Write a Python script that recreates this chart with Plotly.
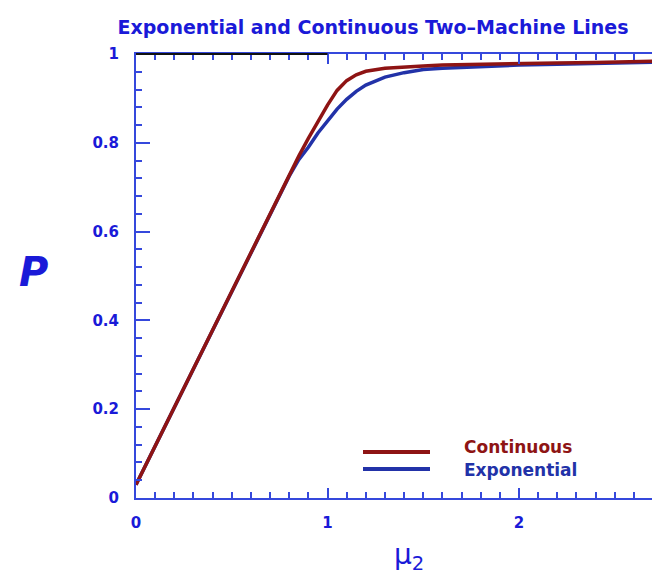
import plotly.graph_objects as go

# ---- data ----
mu2 = [0.0, 0.1, 0.2, 0.3, 0.4, 0.5, 0.6, 0.7, 0.8, 0.85, 0.9, 0.95, 1.0, 1.05,
       1.1, 1.15, 1.2, 1.3, 1.4, 1.5, 1.6, 1.8, 2.0, 2.2, 2.4, 2.6, 2.74]
p_continuous = [0.03, 0.117, 0.205, 0.292, 0.38, 0.467, 0.554, 0.642, 0.728, 0.770,
                0.810, 0.848, 0.885, 0.918, 0.940, 0.953, 0.961, 0.968, 0.971, 0.973,
                0.975, 0.977, 0.978, 0.980, 0.981, 0.983, 0.984]
p_exponential = [0.03, 0.117, 0.205, 0.292, 0.38, 0.467, 0.554, 0.642, 0.725, 0.762,
                 0.790, 0.822, 0.850, 0.876, 0.898, 0.916, 0.930, 0.948, 0.958, 0.965,
                 0.968, 0.972, 0.975, 0.977, 0.979, 0.981, 0.982]

x_tickvals = [0, 1, 2]
x_ticktext = ["0", "1", "2"]
y_tickvals = [0, 0.2, 0.4, 0.6, 0.8, 1.0]
y_ticktext = ["0", "0.2", "0.4", "0.6", "0.8", "1"]
series_names = ["Continuous", "Exponential"]

RED = "#8e1414"
BLUE = "#2232a8"
AXIS = "#3548dc"
TXT = "#1a1ad8"
FONT = "DejaVu Sans"

OFF = 8  # page body margin
W, H = 660 - OFF, 582 - OFF
L, T = 136 - OFF, 54 - OFF
PB = 498 - OFF            # plot bottom in figure px
R, B = 0, H - PB
pw, ph = W - L - R, PB - T


def px(x):
    return (x - OFF - L) / pw


def py(y):
    return (PB - (y - OFF)) / ph


fig = go.Figure()
fig.add_trace(go.Scatter(x=mu2, y=p_exponential, mode="lines", name=series_names[1],
                         line=dict(color=BLUE, width=3.5), showlegend=False))
fig.add_trace(go.Scatter(x=mu2, y=p_continuous, mode="lines", name=series_names[0],
                         line=dict(color=RED, width=3.5), showlegend=False))

xr = [0, pw / 191.5]

fig.update_layout(
    width=W, height=H,
    margin=dict(l=L, r=R, t=T, b=B),
    paper_bgcolor="white", plot_bgcolor="white",
    font=dict(family=FONT, color=TXT),
    title=dict(text="<b>Exponential and Continuous Two–Machine Lines</b>",
               font=dict(family=FONT, size=19, color=TXT),
               x=(373 - OFF) / W, xanchor="center", xref="container",
               y=1 - (27 - OFF) / H, yanchor="middle", yref="container"),
    xaxis=dict(range=xr, showgrid=False, zeroline=False,
               showline=True, linecolor=AXIS, linewidth=2, mirror="ticks",
               ticks="inside", ticklen=10, tickwidth=2, tickcolor=AXIS,
               tickvals=x_tickvals, ticktext=x_ticktext,
               tickfont=dict(family=FONT, size=15, color=TXT, weight="bold"),
               ticklabelstandoff=10,
               minor=dict(dtick=0.1, ticks="inside", ticklen=6, tickwidth=1.5,
                          tickcolor=AXIS, showgrid=False)),
    yaxis=dict(range=[0, 1], showgrid=False, zeroline=False,
               showline=True, linecolor=AXIS, linewidth=2, mirror=False,
               ticks="inside", ticklen=14, tickwidth=2, tickcolor=AXIS,
               tickvals=y_tickvals, ticktext=y_ticktext,
               tickfont=dict(family=FONT, size=15, color=TXT, weight="bold"),
               ticklabelstandoff=12,
               minor=dict(dtick=0.04, ticks="inside", ticklen=6, tickwidth=1.5,
                          tickcolor=AXIS, showgrid=False)),
    yaxis2=dict(range=[0, 1], overlaying="y", side="right", showgrid=False,
                zeroline=False, showline=False, ticks="inside", ticklen=8,
                tickwidth=2, tickcolor="#222244", tickvals=y_tickvals[1:-1],
                showticklabels=False),
)

# black part of the top frame (0..1), as in the reference
fig.add_shape(type="line", xref="x", yref="paper", x0=0, x1=1, y0=1, y1=1,
              line=dict(color="#111111", width=2))

# axis titles
fig.add_annotation(text="<b><i>P</i></b>", xref="paper", yref="paper",
                   x=px(33), y=py(272), showarrow=False,
                   font=dict(family=FONT, size=40, color=TXT),
                   xanchor="center", yanchor="middle")
fig.add_annotation(text="μ<sub>2</sub>", xref="paper", yref="paper",
                   x=px(409), y=py(556), showarrow=False,
                   font=dict(family=FONT, size=28, color=TXT),
                   xanchor="center", yanchor="middle")

# legend (drawn by hand to match the long sample lines)
leg_y = [452, 469]
leg_col = [RED, BLUE]
for name, yy, col in zip(series_names, leg_y, leg_col):
    fig.add_shape(type="line", xref="paper", yref="paper",
                  x0=px(363), x1=px(430), y0=py(yy), y1=py(yy),
                  line=dict(color=col, width=4))
fig.add_annotation(text="<b>Continuous</b>", xref="paper", yref="paper",
                   x=px(462), y=py(447), showarrow=False,
                   font=dict(family=FONT, size=17, color=RED),
                   xanchor="left", yanchor="middle")
fig.add_annotation(text="<b>Exponential</b>", xref="paper", yref="paper",
                   x=px(462), y=py(470), showarrow=False,
                   font=dict(family=FONT, size=17, color=BLUE),
                   xanchor="left", yanchor="middle")

fig.write_html("out.html")
